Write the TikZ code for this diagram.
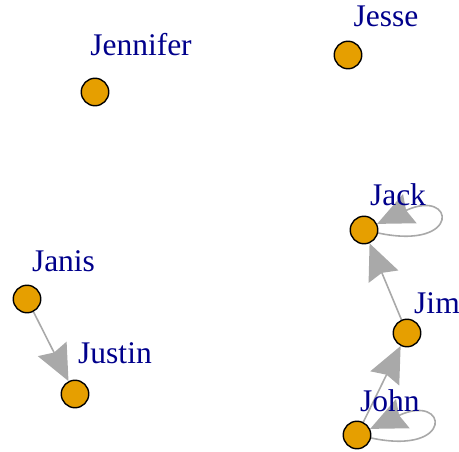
\documentclass[tikz,border=0pt]{standalone}
\usepackage{fontspec}
\setmainfont{Liberation Serif}
\usetikzlibrary{arrows.meta}
\pgfdeclarelayer{background}
\pgfsetlayers{background,main}
\definecolor{vfill}{HTML}{E69F00}
\definecolor{vlab}{HTML}{00008B}
\definecolor{egray}{HTML}{A9A9A9}
\tikzset{
  vert/.style={circle,draw=black,fill=vfill,line width=1.4pt,minimum size=27.5pt,inner sep=0pt},
  vlabel/.style={anchor=base,text=vlab,font=\fontsize{31.5}{36}\selectfont,inner sep=0pt},
  edge/.style={draw=egray,line width=1.6pt,-{Stealth[length=36pt,width=32pt,inset=4pt,fill=egray]}},
  selfloop/.style={edge,looseness=1,min distance=86pt}
}
\begin{document}
\begin{tikzpicture}[x=1pt,y=1pt]
\useasboundingbox (0,0) rectangle (459,451);
\node[vert] (jennifer) at (95,359) {};
\node[vert] (jesse) at (348,396) {};
\node[vert] (jack) at (364,221) {};
\node[vert] (jim) at (407,118) {};
\node[vert] (john) at (357,16) {};
\node[vert] (janis) at (27,152) {};
\node[vert] (justin) at (75,57) {};
\begin{pgfonlayer}{background}
\draw[edge] (jim) -- (jack);
\draw[edge] (john) -- (jim);
\draw[edge] (janis) -- (justin);
\draw[selfloop] (jack) to[out=-12,in=25] (jack);
\draw[selfloop] (john) to[out=-12,in=25] (john);
\end{pgfonlayer}
\node[vlabel] (ljennifer) at (141,395) {Jennifer};
\node[vlabel] (ljesse) at (386,424) {Jesse};
\node[vlabel] (ljack) at (398,245) {Jack};
\node[vlabel] (ljim) at (437,138) {Jim};
\node[vlabel] (ljohn) at (390,39) {John};
\node[vlabel] (ljanis) at (63.5,179) {Janis};
\node[vlabel] (ljustin) at (115,88) {Justin};
\end{tikzpicture}
\end{document}
